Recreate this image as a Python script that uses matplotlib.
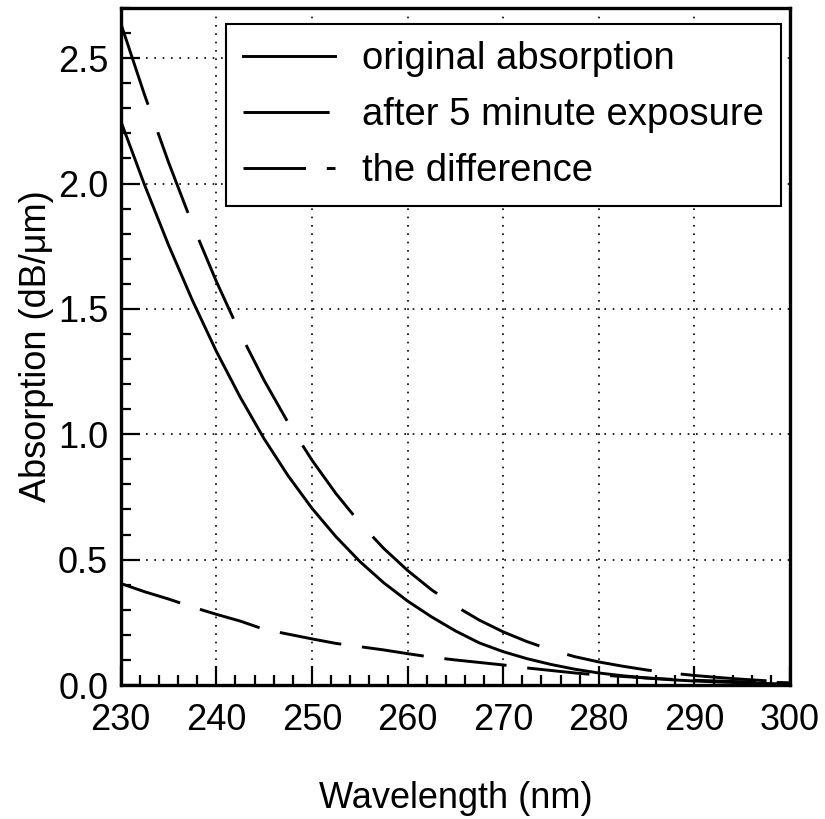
import matplotlib
matplotlib.use("Agg")
import matplotlib.pyplot as plt
from matplotlib.ticker import MultipleLocator

# wavelength grid (nm) and absorption values (dB/um)
wavelength = [230, 232.5, 235, 237.5, 240, 242.5, 245, 247.5, 250, 252.5,
              255, 257.5, 260, 262.5, 265, 267.5, 270, 272.5, 275, 277.5,
              280, 282.5, 285, 287.5, 290, 292.5, 295, 297.5, 300]

original = [2.250, 1.994, 1.755, 1.534, 1.331, 1.148, 0.982, 0.835, 0.705, 0.592,
            0.493, 0.408, 0.335, 0.272, 0.216, 0.168, 0.133, 0.105, 0.082, 0.063,
            0.048, 0.037, 0.028, 0.021, 0.016, 0.012, 0.009, 0.006, 0.004]

exposed = [2.640, 2.353, 2.085, 1.837, 1.610, 1.402, 1.215, 1.047, 0.897, 0.764,
           0.647, 0.545, 0.457, 0.380, 0.315, 0.259, 0.212, 0.173, 0.140, 0.113,
           0.092, 0.075, 0.060, 0.048, 0.038, 0.030, 0.023, 0.017, 0.013]

difference = [0.405, 0.372, 0.343, 0.311, 0.282, 0.255, 0.222, 0.203, 0.184, 0.166,
              0.153, 0.140, 0.125, 0.111, 0.100, 0.090, 0.080, 0.068, 0.058, 0.048,
              0.040, 0.034, 0.028, 0.023, 0.019, 0.016, 0.013, 0.011, 0.009]

labels = ["original absorption", "after 5 minute exposure", "the difference"]

plt.rcParams["font.family"] = ["Liberation Sans", "DejaVu Sans"]
plt.rcParams["lines.scale_dashes"] = False

fig = plt.figure(figsize=(8.25, 8.19), dpi=100)
ax = fig.add_axes([0.1463, 0.1636, 0.8113, 0.8266])

lw = 2.1
ax.plot(wavelength, original, color="k", lw=lw, label=labels[0])
ax.plot(wavelength, exposed, color="k", lw=lw, ls=(0, (62, 21)), label=labels[1])
ax.plot(wavelength, difference, color="k", lw=lw, ls=(0, (45, 15)), label=labels[2])

ax.set_xlim(230, 300)
ax.set_ylim(0, 2.7)
ax.xaxis.set_major_locator(MultipleLocator(10))
ax.xaxis.set_minor_locator(MultipleLocator(2))
ax.yaxis.set_major_locator(MultipleLocator(0.5))
ax.yaxis.set_minor_locator(MultipleLocator(0.1))
ax.yaxis.set_major_formatter(matplotlib.ticker.FormatStrFormatter("%.1f"))

ax.tick_params(which="both", direction="in", top=False, right=False, width=1.6)
ax.tick_params(which="major", length=13.5, labelsize=26)
ax.tick_params(axis="x", which="major", pad=13)
ax.tick_params(axis="y", which="major", pad=9)
ax.tick_params(which="minor", length=7)

ax.grid(True, which="major", color="k", ls=(0, (1.2, 4.8)), lw=1.2)
for sp in ax.spines.values():
    sp.set_linewidth(2.4)

ax.set_xlabel("Wavelength (nm)", fontsize=26, labelpad=31)
ax.set_ylabel("Absorption (dB/\u03bcm)", fontsize=26, labelpad=3)

leg = ax.legend(loc="upper left", bbox_to_anchor=(0.157, 0.976), borderaxespad=0,
                fontsize=27.5, handlelength=2.41, handletextpad=0.71,
                borderpad=0.45, labelspacing=0.52, fancybox=False,
                framealpha=1, edgecolor="k")
leg.get_frame().set_linewidth(1.5)

fig.savefig("out.png", dpi=100)
